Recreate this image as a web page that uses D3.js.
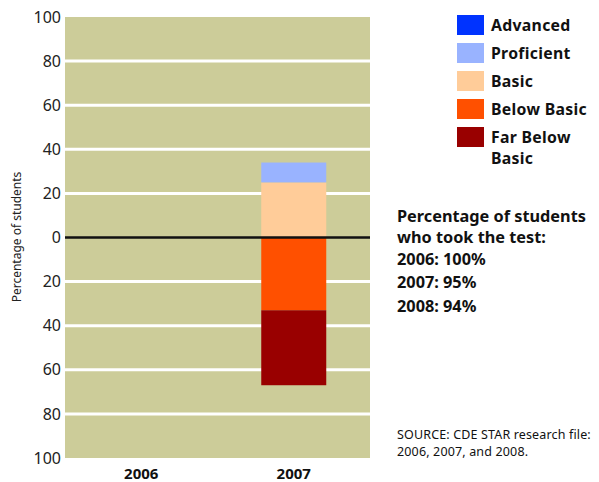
<!DOCTYPE html>
<html><head><meta charset="utf-8">
<script src="https://cdn.jsdelivr.net/npm/d3@7"></script>
<style>
body{margin:0;background:#fff;}
svg{display:block;font-family:"Noto Sans","Open Sans",sans-serif;}
</style></head>
<body><svg id="c" width="599" height="482"></svg>
<script>
const years = ["2006", "2007"];
const advanced = [0, 0];
const proficient = [0, 9];
const basic = [0, 25];
const belowBasic = [0, 33];
const farBelowBasic = [0, 34];
const yTicks = [-100, -80, -60, -40, -20, 0, 20, 40, 60, 80, 100];
const legendLabels = ["Advanced", "Proficient", "Basic", "Below Basic", ["Far Below", "Basic"]];
const legendColors = ["#0033ff", "#99b3ff", "#ffcc99", "#ff5000", "#990000"];
const infoLines = ["Percentage of students", "who took the test:", "2006: 100%", "2007: 95%", "2008: 94%"];
const sourceLines = ["SOURCE: CDE STAR research file:", "2006, 2007, and 2008."];

const svg = d3.select("#c");
const x = d3.scaleBand().domain(years).range([65, 370]).padding(0);
const y = d3.scaleLinear().domain([-100, 100]).range([458, 17]);

svg.append("rect").attr("x", 65).attr("y", y(100)).attr("width", 305).attr("height", y(-100) - y(100)).attr("fill", "#cccc99");

// grid lines
svg.append("g").selectAll("line").data(yTicks.filter(d => d !== 0 && Math.abs(d) !== 100)).join("line")
  .attr("x1", 65).attr("x2", 370).attr("y1", d => y(d)).attr("y2", d => y(d))
  .attr("stroke", "#fff").attr("stroke-width", 3);

// y axis labels
const ya = svg.append("g").attr("transform", "translate(63,0)")
  .call(d3.axisLeft(y).tickValues(yTicks).tickSize(0).tickPadding(2).tickFormat(d => Math.abs(d)));
ya.select(".domain").remove();
ya.selectAll("text").attr("font-size", 16).attr("fill", "#222").attr("font-family", "\"Noto Sans\",sans-serif");

// stacked bars
const bw = 65;
const segs = [];
years.forEach((yr, i) => {
  let top = 0;
  [[basic, 2], [proficient, 1], [advanced, 0]].forEach(([arr, ci]) => {
    const v = arr[i];
    if (v > 0) segs.push({yr, y0: top, y1: top + v, c: legendColors[ci]});
    top += v;
  });
  let bot = 0;
  [[belowBasic, 3], [farBelowBasic, 4]].forEach(([arr, ci]) => {
    const v = arr[i];
    if (v > 0) segs.push({yr, y0: bot - v, y1: bot, c: legendColors[ci]});
    bot -= v;
  });
});
svg.append("g").selectAll("rect").data(segs).join("rect")
  .attr("x", d => x(d.yr) + x.bandwidth() / 2 - bw / 2)
  .attr("width", bw)
  .attr("y", d => y(d.y1)).attr("height", d => y(d.y0) - y(d.y1))
  .attr("fill", d => d.c);

// zero line
svg.append("line").attr("x1", 65).attr("x2", 370).attr("y1", y(0)).attr("y2", y(0))
  .attr("stroke", "#111").attr("stroke-width", 2.5);

// x axis labels
const xa = svg.append("g").attr("transform", "translate(0,465)")
  .call(d3.axisBottom(x).tickSize(0).tickPadding(3));
xa.select(".domain").remove();
xa.selectAll("text").attr("font-size", 15).attr("font-weight", "bold").attr("fill", "#111")
  .attr("font-family", "\"Noto Sans\",sans-serif");

// y title
svg.append("text").attr("transform", "translate(21,237) rotate(-90)")
  .attr("text-anchor", "middle").attr("font-size", 12).attr("fill", "#222")
  .text("Percentage of students");

// legend
const lg = svg.append("g");
legendColors.forEach((c, i) => {
  const yy = 15 + i * 28;
  lg.append("rect").attr("x", 457).attr("y", yy).attr("width", 27).attr("height", 20).attr("fill", c);
  const lab = legendLabels[i];
  const t = lg.append("text").attr("x", 491).attr("y", yy + 15.5).attr("font-size", 15.8)
    .attr("letter-spacing", 0.3)
    .attr("font-weight", "bold").attr("fill", "#111");
  if (Array.isArray(lab)) {
    t.append("tspan").attr("x", 491).text(lab[0]);
    t.append("tspan").attr("x", 491).attr("dy", 21.6).text(lab[1]);
  } else t.text(lab);
});

// info text
const infoY = [222, 243, 265, 288, 312];
infoLines.forEach((s, i) => {
  svg.append("text").attr("x", 397).attr("y", infoY[i]).attr("font-size", 16.3)
    .attr("font-weight", "bold").attr("fill", "#111").text(s);
});

sourceLines.forEach((s, i) => {
  svg.append("text").attr("x", 397).attr("y", 439 + i * 17.2).attr("font-size", 12.5)
    .attr("letter-spacing", 0.15)
    .attr("fill", "#111").text(s);
});
</script></body></html>
